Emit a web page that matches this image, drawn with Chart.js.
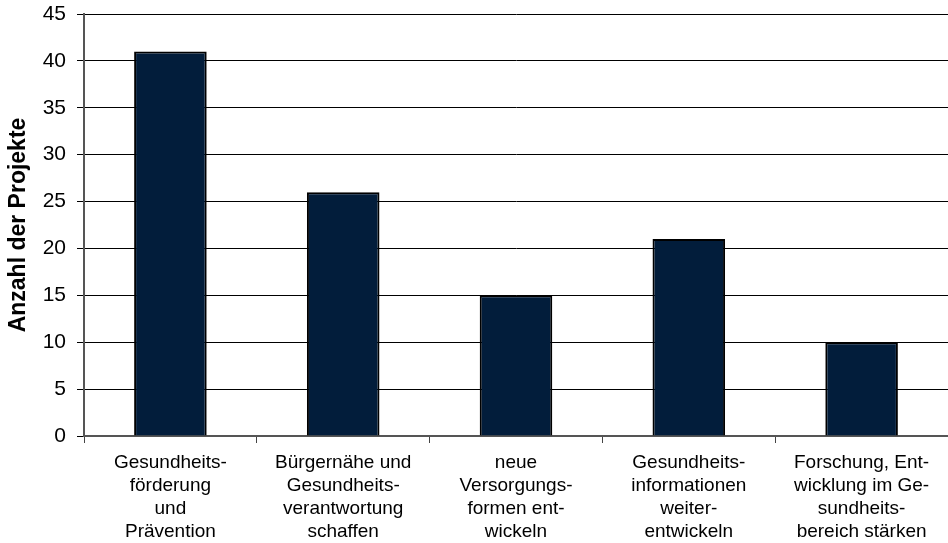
<!DOCTYPE html>
<html>
<head>
<meta charset="utf-8">
<script src="https://cdn.jsdelivr.net/npm/chart.js@4/dist/chart.umd.min.js"></script>
<style>
html,body{margin:0;padding:0;background:#fff;}
#wrap{width:948px;height:543px;position:relative;}
</style>
</head>
<body>
<div id="wrap"><canvas id="c" width="948" height="543"></canvas></div>
<script>
const categories = [
  ["Gesundheits-","förderung","und","Prävention"],
  ["Bürgernähe und","Gesundheits-","verantwortung","schaffen"],
  ["neue","Versorgungs-","formen ent-","wickeln"],
  ["Gesundheits-","informationen","weiter-","entwickeln"],
  ["Forschung, Ent-","wicklung im Ge-","sundheits-","bereich stärken"]
];
const projectCounts = [41, 26, 15, 21, 10];
const yAxisTitle = "Anzahl der Projekte";

new Chart(document.getElementById('c'), {
  type: 'bar',
  data: {
    labels: categories,
    datasets: [{
      data: projectCounts,
      backgroundColor: '#021d3b',
      borderColor: '#000000',
      borderWidth: 2,
      categoryPercentage: 1.0,
      barPercentage: 0.42
    }]
  },
  options: {
    responsive: false,
    animation: false,
    layout: { padding: { top: 14, right: -3, left: 0, bottom: 0 } },
    plugins: { legend: { display: false }, tooltip: { enabled: false } },
    scales: {
      x: {
        afterFit: (s) => { s.height = 107; s.paddingLeft = 0; s.paddingRight = 0; },
        grid: { offset: true, drawOnChartArea: false, drawTicks: true, tickLength: 7, color: '#444444', lineWidth: 1 },
        border: { display: true, color: '#555555', width: 2 },
        ticks: { color: '#000', font: { family: 'Liberation Sans, Arial', size: 19, lineHeight: 1.21 }, padding: 8, maxRotation: 0, autoSkip: false }
      },
      y: {
        min: 0, max: 45,
        afterFit: (s) => { s.width = 84; s.paddingTop = 0; s.paddingBottom = 0; },
        grid: { color: '#000000', lineWidth: 1, drawTicks: true, tickLength: 7 },
        border: { display: true, color: '#555555', width: 2 },
        ticks: { stepSize: 5, color: '#000', font: { family: 'Liberation Sans, Arial', size: 21 }, padding: 11 },
        title: { display: true, text: yAxisTitle, color: '#000', font: { family: 'Liberation Sans, Arial', size: 23, weight: 'bold' }, padding: { top: 5, bottom: 10 } }
      }
    }
  }
});
</script>
</body>
</html>
